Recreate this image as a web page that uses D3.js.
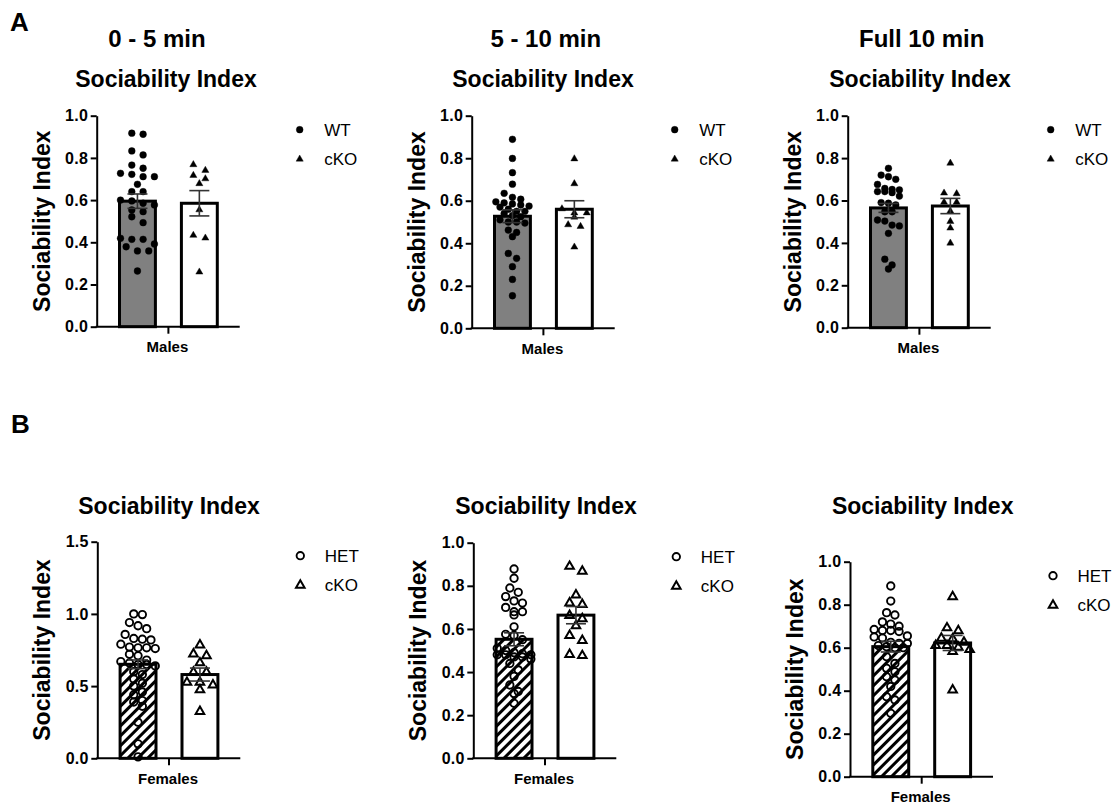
<!DOCTYPE html>
<html>
<head>
<meta charset="utf-8">
<script src="https://cdn.jsdelivr.net/npm/d3@7"></script>
<style>
  html, body { margin: 0; padding: 0; background: #fff; }
  svg { display: block; }
</style>
</head>
<body>
<script>
// ---- Data -----------------------------------------------------------
const groupsMale = ["WT", "cKO"];
const groupsFemale = ["HET", "cKO"];

const ticksUnit = [0, 0.2, 0.4, 0.6, 0.8, 1.0];
const ticksWide = [0, 0.5, 1.0, 1.5];

// Males, 0 - 5 min
const m05WT = [0.917, 0.912, 0.833, 0.814, 0.766, 0.751, 0.727, 0.722, 0.711, 0.711, 0.675, 0.640, 0.640, 0.600, 0.596, 0.585, 0.577, 0.553, 0.545, 0.521, 0.493, 0.419, 0.414, 0.414, 0.392, 0.379, 0.359, 0.359, 0.264];
const m05KO = [0.770, 0.743, 0.719, 0.703, 0.680, 0.556, 0.435, 0.422, 0.261];
const m05Mean = [0.595, 0.585];
const m05Sem = [0.034, 0.060];

// Males, 5 - 10 min
const m510WT = [0.889, 0.799, 0.732, 0.678, 0.635, 0.616, 0.607, 0.595, 0.590, 0.585, 0.580, 0.575, 0.570, 0.560, 0.550, 0.550, 0.540, 0.530, 0.525, 0.510, 0.500, 0.500, 0.495, 0.462, 0.451, 0.431, 0.352, 0.329, 0.290, 0.230, 0.153];
const m510KO = [0.799, 0.682, 0.564, 0.545, 0.545, 0.525, 0.489, 0.481, 0.384];
const m510Mean = [0.527, 0.560];
const m510Sem = [0.030, 0.040];

// Males, full 10 min
const m10WT = [0.752, 0.720, 0.712, 0.700, 0.676, 0.657, 0.652, 0.650, 0.642, 0.642, 0.637, 0.621, 0.590, 0.587, 0.579, 0.547, 0.547, 0.508, 0.503, 0.484, 0.480, 0.445, 0.323, 0.296, 0.277];
const m10KO = [0.778, 0.637, 0.634, 0.594, 0.594, 0.552, 0.503, 0.472, 0.401];
const m10Mean = [0.565, 0.574];
const m10Sem = [0.021, 0.036];

// Females, 0 - 5 min
const f05HET = [1.000, 0.995, 0.940, 0.918, 0.898, 0.858, 0.830, 0.825, 0.820, 0.790, 0.770, 0.765, 0.765, 0.760, 0.720, 0.710, 0.680, 0.670, 0.660, 0.650, 0.650, 0.640, 0.600, 0.580, 0.550, 0.520, 0.500, 0.460, 0.440, 0.400, 0.390, 0.360, 0.250, 0.100, 0.010];
const f05KO = [0.789, 0.727, 0.715, 0.665, 0.600, 0.600, 0.530, 0.530, 0.512, 0.478, 0.328];
const f05Mean = [0.651, 0.580];
const f05Sem = [0.030, 0.045];

// Females, 5 - 10 min
const f510HET = [0.878, 0.835, 0.790, 0.770, 0.750, 0.730, 0.720, 0.700, 0.680, 0.680, 0.665, 0.610, 0.575, 0.570, 0.550, 0.510, 0.500, 0.490, 0.485, 0.480, 0.480, 0.480, 0.470, 0.470, 0.460, 0.440, 0.410, 0.380, 0.340, 0.310, 0.300, 0.255];
const f510KO = [0.893, 0.870, 0.760, 0.723, 0.716, 0.665, 0.650, 0.618, 0.572, 0.549, 0.484, 0.479];
const f510Mean = [0.552, 0.664];
const f510Sem = [0.030, 0.040];

// Females, full 10 min
const f10HET = [0.887, 0.817, 0.763, 0.752, 0.720, 0.710, 0.700, 0.685, 0.680, 0.680, 0.675, 0.655, 0.650, 0.645, 0.625, 0.620, 0.620, 0.610, 0.605, 0.600, 0.600, 0.558, 0.527, 0.504, 0.488, 0.465, 0.450, 0.420, 0.372, 0.357, 0.295];
const f10KO = [0.840, 0.695, 0.682, 0.647, 0.644, 0.628, 0.613, 0.613, 0.605, 0.594, 0.585, 0.406];
const f10Mean = [0.605, 0.622];
const f10Sem = [0.025, 0.035];

// ---- Layout ---------------------------------------------------------
const FONT = "Arial, 'Liberation Sans', Helvetica, sans-serif";
const W = 1119, H = 806;

const svg = d3.select("body").append("svg")
  .attr("width", W).attr("height", H)
  .attr("viewBox", `0 0 ${W} ${H}`);

svg.append("rect").attr("width", W).attr("height", H).attr("fill", "#fff");

// diagonal hatch for the HET bars
const defs = svg.append("defs");
defs.append("pattern")
  .attr("id", "hatch")
  .attr("patternUnits", "userSpaceOnUse")
  .attr("width", 7).attr("height", 7)
  .attr("patternTransform", "rotate(45)")
  .append("rect")
  .attr("x", 2).attr("y", 0).attr("width", 3).attr("height", 7)
  .attr("fill", "#000");

const panels = [
  { axisX: 96.7,  yTop: 115.7, yBot: 326.7, yMax: 1.0, ticks: ticksUnit, head: "0 - 5 min",   headX: 157,   titleX: 166,   titleY: 87,
    groups: groupsMale, values: [m05WT, m05KO], mean: m05Mean, sem: m05Sem, sex: "Males",
    fills: ["#808080", "#fff"], open: false, spread: [11.3, 12], maxRow: [4, 3] },
  { axisX: 471.7, yTop: 115.7, yBot: 328.3, yMax: 1.0, ticks: ticksUnit, head: "5 - 10 min",  headX: 545.8, titleX: 543,   titleY: 87,
    groups: groupsMale, values: [m510WT, m510KO], mean: m510Mean, sem: m510Sem, sex: "Males",
    fills: ["#808080", "#fff"], open: false, spread: [8.3, 12.4], maxRow: [5, 3] },
  { axisX: 847.7, yTop: 115.7, yBot: 327.7, yMax: 1.0, ticks: ticksUnit, head: "Full 10 min", headX: 921.7, titleX: 920,   titleY: 87,
    groups: groupsMale, values: [m10WT, m10KO], mean: m10Mean, sem: m10Sem, sex: "Males",
    fills: ["#808080", "#fff"], open: false, spread: [7.3, 12.6], maxRow: [6, 3] },
  { axisX: 97.3,  yTop: 541.7, yBot: 758.3, yMax: 1.5, ticks: ticksWide, head: null, titleX: 169,   titleY: 514,
    groups: groupsFemale, values: [f05HET, f05KO], mean: f05Mean, sem: f05Sem, sex: "Females",
    fills: ["url(#hatch)", "#fff"], open: true, spread: [8.6, 13], maxRow: [5, 3] },
  { axisX: 473.3, yTop: 542.7, yBot: 758.3, yMax: 1.0, ticks: ticksUnit, head: null, titleX: 546,   titleY: 514,
    groups: groupsFemale, values: [f510HET, f510KO], mean: f510Mean, sem: f510Sem, sex: "Females",
    fills: ["url(#hatch)", "#fff"], open: true, spread: [8.4, 12.7], maxRow: [5, 3] },
  { axisX: 850,   yTop: 561.7, yBot: 776.7, yMax: 1.0, ticks: ticksUnit, head: null, titleX: 922.7, titleY: 514,
    groups: groupsFemale, values: [f10HET, f10KO], mean: f10Mean, sem: f10Sem, sex: "Females",
    fills: ["url(#hatch)", "#fff"], open: true, spread: [8.3, 11.3], maxRow: [5, 4] }
];

// Arrange a group's points in horizontal rows centred on the bar
function swarm(vals, y, cx, spread, tol, maxRow) {
  const pts = vals.map(v => ({ v, y: y(v) })).sort((a, b) => a.y - b.y);
  const rows = [];
  let cur = null;
  pts.forEach(p => {
    if (cur && p.y - cur.y0 < tol && cur.pts.length < maxRow) cur.pts.push(p);
    else { cur = { y0: p.y, pts: [p] }; rows.push(cur); }
  });
  rows.forEach(r => {
    const n = r.pts.length;
    r.pts.forEach((p, i) => { p.x = cx + (i - (n - 1) / 2) * spread; });
  });
  return pts;
}

function marker(g, shape, open, x, y) {
  if (shape === "circle") {
    g.append("circle")
      .attr("cx", x).attr("cy", y)
      .attr("r", open ? 3.7 : 3.4)
      .attr("fill", open ? "none" : "#000")
      .attr("stroke", "#000")
      .attr("stroke-width", open ? 1.9 : 0.4);
  } else {
    g.append("path")
      .attr("transform", `translate(${x},${y + (open ? 0.6 : 0.4)})`)
      .attr("d", d3.symbol(d3.symbolTriangle, open ? 32 : 22)())
      .attr("fill", open ? "none" : "#000")
      .attr("stroke", "#000")
      .attr("stroke-width", open ? 2 : 0.4)
      .attr("stroke-linejoin", "miter");
  }
}

panels.forEach(p => {
  const g = svg.append("g");
  const y = d3.scaleLinear().domain([0, p.yMax]).range([p.yBot, p.yTop]);
  const x = d3.scaleBand().domain(p.groups)
    .range([p.axisX + 22.8, p.axisX + 120.6])
    .paddingInner(0.42);
  const xEnd = p.axisX + 143;
  const shapes = ["circle", "triangle"];

  // headings
  if (p.head) {
    g.append("text").attr("x", p.headX).attr("y", 46.7)
      .attr("text-anchor", "middle")
      .attr("font-family", FONT).attr("font-weight", "bold").attr("font-size", 24)
      .text(p.head);
  }
  g.append("text").attr("x", p.titleX).attr("y", p.titleY)
    .attr("text-anchor", "middle")
    .attr("font-family", FONT).attr("font-weight", "bold").attr("font-size", 23)
    .text("Sociability Index");

  // y axis title
  const midY = (p.yTop + p.yBot) / 2;
  g.append("text")
    .attr("transform", `translate(${p.axisX - 47},${midY}) rotate(-90)`)
    .attr("text-anchor", "middle")
    .attr("font-family", FONT).attr("font-weight", "bold").attr("font-size", 23)
    .text("Sociability Index");

  // bars
  p.groups.forEach((grp, i) => {
    g.append("rect")
      .attr("x", x(grp)).attr("y", y(p.mean[i]))
      .attr("width", x.bandwidth()).attr("height", p.yBot - y(p.mean[i]))
      .attr("fill", p.fills[i])
      .attr("stroke", "#000").attr("stroke-width", 3);
  });

  // individual animals
  p.groups.forEach((grp, i) => {
    const cx = x(grp) + x.bandwidth() / 2;
    const pts = swarm(p.values[i], y, cx, p.spread[i], p.open ? 7 : 6, p.maxRow[i]);
    pts.forEach(pt => marker(g, shapes[i], p.open, pt.x, pt.y));
  });

  // mean ± SEM
  p.groups.forEach((grp, i) => {
    const cx = x(grp) + x.bandwidth() / 2;
    const hi = y(p.mean[i] + p.sem[i]), lo = y(p.mean[i] - p.sem[i]);
    const eb = g.append("g").attr("stroke", "#333").attr("stroke-width", 1.6);
    eb.append("line").attr("x1", cx).attr("x2", cx).attr("y1", hi).attr("y2", lo);
    eb.append("line").attr("x1", cx - 10).attr("x2", cx + 10).attr("y1", hi).attr("y2", hi);
    eb.append("line").attr("x1", cx - 10).attr("x2", cx + 10).attr("y1", lo).attr("y2", lo);
  });

  // y axis
  const ax = g.append("g")
    .attr("transform", `translate(${p.axisX},0)`)
    .call(d3.axisLeft(y).tickValues(p.ticks).tickFormat(d3.format(".1f"))
      .tickSize(6).tickSizeOuter(0).tickPadding(2.5));
  ax.select(".domain").attr("stroke", "#000").attr("stroke-width", 2);
  ax.selectAll(".tick line").attr("stroke", "#000").attr("stroke-width", 2);
  ax.selectAll(".tick text")
    .attr("fill", "#000")
    .attr("font-family", FONT).attr("font-weight", "bold").attr("font-size", 16)
    .attr("letter-spacing", 0.3);

  // x axis
  const xc = (x(p.groups[0]) + x(p.groups[1]) + x.bandwidth()) / 2;
  g.append("line").attr("x1", p.axisX - 1).attr("x2", xEnd)
    .attr("y1", p.yBot).attr("y2", p.yBot)
    .attr("stroke", "#000").attr("stroke-width", 2);
  g.append("line").attr("x1", xc).attr("x2", xc)
    .attr("y1", p.yBot).attr("y2", p.yBot + 7)
    .attr("stroke", "#000").attr("stroke-width", 2);
  g.append("text").attr("x", xc - 1).attr("y", p.yBot + 25.5)
    .attr("text-anchor", "middle")
    .attr("font-family", FONT).attr("font-weight", "bold").attr("font-size", 15)
    .text(p.sex);

  // legend
  const lx = p.axisX + 203, ly = p.yTop + 14;
  p.groups.forEach((grp, i) => {
    const yy = ly + i * 29;
    marker(g, shapes[i], p.open, lx, yy);
    g.append("text").attr("x", lx + 24.5).attr("y", yy)
      .attr("dy", "0.36em")
      .attr("font-family", FONT).attr("font-size", 17)
      .text(grp);
  });
});

// panel letters
svg.append("text").attr("x", 10).attr("y", 31)
  .attr("font-family", FONT).attr("font-weight", "bold").attr("font-size", 26).text("A");
svg.append("text").attr("x", 11).attr("y", 433)
  .attr("font-family", FONT).attr("font-weight", "bold").attr("font-size", 26).text("B");
</script>
</body>
</html>
